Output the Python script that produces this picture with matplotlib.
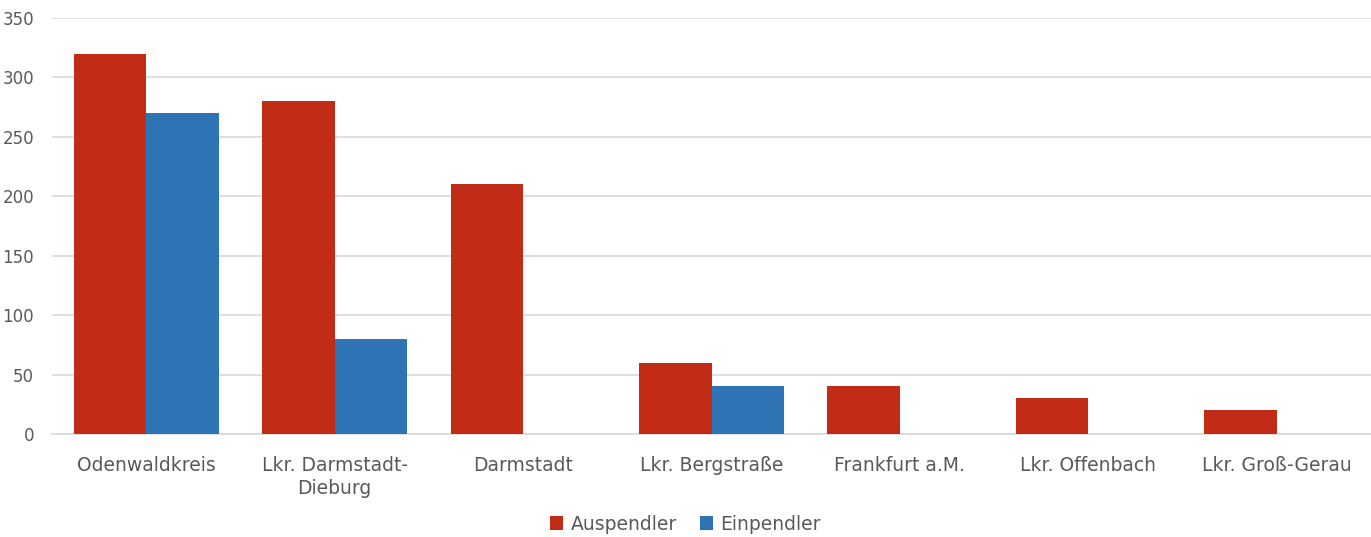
import matplotlib
matplotlib.use("Agg")
import matplotlib.pyplot as plt
import numpy as np

categories = ["Odenwaldkreis", "Lkr. Darmstadt-\nDieburg", "Darmstadt", "Lkr. Bergstraße",
              "Frankfurt a.M.", "Lkr. Offenbach", "Lkr. Groß-Gerau"]
auspendler = [320, 280, 210, 60, 40, 30, 20]
einpendler = [270, 80, 0, 40, 0, 0, 0]
yticks = [0, 50, 100, 150, 200, 250, 300, 350]

plt.rcParams['font.family'] = ['DejaVu Sans']
gray = "#595959"

fig = plt.figure(figsize=(13.71, 5.37), dpi=100)
ax = fig.add_axes([52/1371, 103/537, 1 - 52/1371, 416/537])

x = np.arange(len(categories))
w = 0.385
ax.bar(x - w/2, auspendler, w, color="#C22B15", label="Auspendler", zorder=3)
ax.bar(x + w/2, einpendler, w, color="#2E74B5", label="Einpendler", zorder=3)

ax.set_xlim(-0.5, len(categories) - 0.5)
ax.set_ylim(0, 350)
ax.set_yticks(yticks)
ax.yaxis.grid(True, color="#D9D9D9", linewidth=1.2, zorder=0)
for s in ["top", "right", "left"]:
    ax.spines[s].set_visible(False)
ax.spines["bottom"].set_color("#D9D9D9")
ax.spines["bottom"].set_linewidth(1.2)
ax.tick_params(axis="y", length=0, pad=13, labelsize=12, labelcolor=gray)
ax.tick_params(axis="x", length=0, pad=16, labelsize=13.5, labelcolor=gray)
ax.set_xticks(x)
ax.set_xticklabels(categories, linespacing=1.25)

leg = fig.legend(loc="center", bbox_to_anchor=(0.5, 1 - 524/537), ncol=2, frameon=False,
                 fontsize=13.5, handlelength=0.7, handleheight=0.7, handletextpad=0.4,
                 columnspacing=1.2)
for t in leg.get_texts():
    t.set_color(gray)

fig.savefig("out.png", dpi=100)
